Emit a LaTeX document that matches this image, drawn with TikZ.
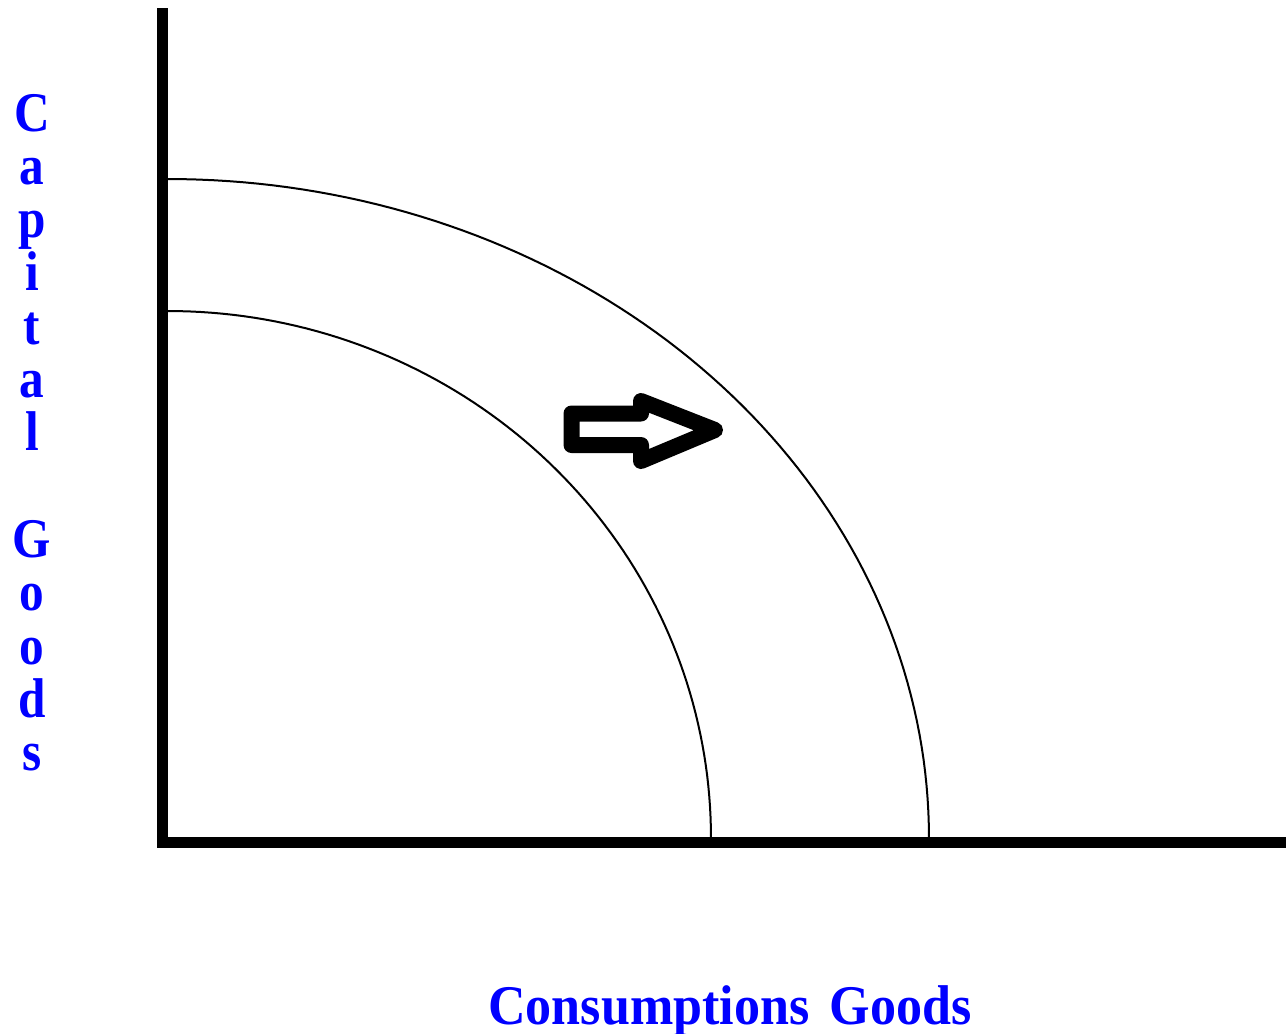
\documentclass[tikz,border=0pt]{standalone}
\usepackage{fontspec}
\setmainfont{Liberation Serif}
\definecolor{lblue}{RGB}{0,0,255}
\begin{document}
\begin{tikzpicture}[x=1pt,y=-1pt,
  axisline/.style={line width=11pt,black},
  ppf/.style={line width=2pt,black},
  lbl/.style={text=lblue,font=\fontsize{56}{56}\selectfont\bfseries,inner sep=0pt,anchor=base},
  shiftarrow/.style={line width=16pt,black,line join=round,fill=white}]
\fill[white] (0,0) rectangle (1286,1034);
\useasboundingbox (0,0) rectangle (1286,1034);
% axes
\coordinate (ytop) at (162.5,8);
\coordinate (origin) at (162.5,842);
\coordinate (xend) at (1286,842);
\draw[axisline] (ytop) -- (162.5,847.5);
\draw[axisline] (157,842) -- (xend);
% PPF curves
\draw[ppf] plot[domain=0:90,samples=80] ({168+761*sin(\x)},{838-659*cos(\x)});
\draw[ppf] plot[domain=0:90,samples=80] ({168+543*sin(\x)},{838-527*cos(\x)});
% shift arrow
\draw[shiftarrow] (571.5,413.5) -- (641,413.5) -- (641,401) -- (715,430) -- (641,461) -- (641,445) -- (571.5,445) -- cycle;
% vertical label
\foreach \ch/\k [count=\i] in {C/0,a/1,p/2,i/3,t/4,a/5,l/6,G/8,o/9,o/10,d/11,s/12}{
  \node[lbl] (v\i) at (32,{131+53.3*\k}) {\scalebox{0.88}[1]{\ch}};
}
% horizontal label
\node[lbl] (xlabel) at (730,1024) {\scalebox{0.93}[1]{Consumptions\hspace{22pt}Goods}};
\end{tikzpicture}
\end{document}
